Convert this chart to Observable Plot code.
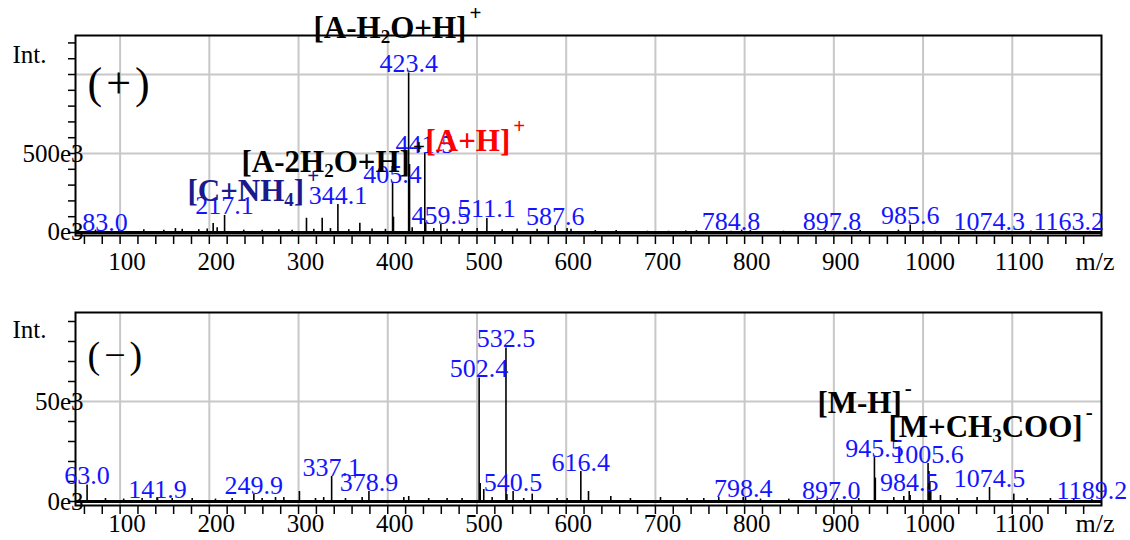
<!DOCTYPE html>
<html><head><meta charset="utf-8">
<script src="https://cdn.jsdelivr.net/npm/d3@7"></script>
<script src="https://cdn.jsdelivr.net/npm/@observablehq/plot@0.6"></script>
<style>
html,body{margin:0;padding:0;background:#fff;}
#chart{position:relative;width:1130px;height:540px;font-family:"Liberation Serif",serif;}
#chart svg{display:block;overflow:visible;}
</style></head><body><div id="chart"></div>
<script>
// ---------- Positive mode (+) ----------
const posLabelMz  = [83.0, 217.1, 344.1, 405.4, 423.4, 441.5, 459.5, 511.1, 587.6, 784.8, 897.8, 985.6, 1074.3, 1163.2];
const posLabelInt = [3e3, 108e3, 177e3, 310e3, 1010e3, 500e3, 50e3, 89e3, 44e3, 8e3, 8e3, 48e3, 8e3, 8e3];
const posMinorMz  = [72.4, 98.5, 126.6, 149, 162, 169.6, 188.2, 197.6, 204.3, 208.8, 238.6, 259.2, 277.9, 292.8, 308.9, 317.1, 326.5, 335.8, 356.3, 368.7, 382.4, 397.4, 406.4, 424.4, 427.4, 442.5, 451.6, 466.5, 483.4, 500.2, 528.2, 545, 567.4, 601, 605.4, 632.6, 656, 691, 714.7, 734, 746, 796.7, 806.4, 843.6, 890.4, 929.5, 972.4, 999.8, 1013.4, 1058.3, 1093.5, 1120.8, 1159.9, 1187.2];
const posMinorInt = [15e3, 12e3, 18e3, 15e3, 25e3, 20e3, 18e3, 22e3, 57e3, 30e3, 15e3, 15e3, 18e3, 15e3, 90e3, 20e3, 90e3, 25e3, 18e3, 59e3, 22e3, 20e3, 97e3, 430e3, 30e3, 60e3, 25e3, 20e3, 20e3, 25e3, 18e3, 22e3, 20e3, 25e3, 20e3, 12e3, 12e3, 8e3, 8e3, 10e3, 12e3, 15e3, 12e3, 8e3, 15e3, 12e3, 15e3, 10e3, 8e3, 10e3, 8e3, 10e3, 10e3, 8e3];
const posAnnText = ["[A-H_{2}O+H]^{+}", "[A-2H_{2}O+H]^{+}", "[A+H]^{+}", "[C+NH_{4}]^{+}"];
const posAnnKind = ["fragment", "fragment", "parent", "adduct"];
const posAnnMz   = [316.8, 236.1, 442.3, 175.5];
const posAnnInt  = [1234e3, 380e3, 519e3, 202e3];
const posYTicks  = [0, 100e3, 200e3, 300e3, 400e3, 500e3, 600e3, 700e3, 800e3, 900e3, 1000e3, 1100e3, 1200e3];
const posYLabels = [0, 500e3];
const posYGrid   = [500e3, 1000e3];

// ---------- Negative mode (-) ----------
const negLabelMz  = [63.0, 141.9, 249.9, 337.1, 378.9, 502.4, 532.5, 540.5, 616.4, 798.4, 897.0, 945.5, 984.5, 1005.6, 1074.5, 1189.2];
const negLabelInt = [8.3e3, 1.5e3, 3.5e3, 12.5e3, 5e3, 61.7e3, 76.7e3, 5e3, 15e3, 2e3, 1e3, 22e3, 5e3, 19e3, 7e3, 1e3];
const negMinorMz  = [83.6, 104, 124.7, 141.5, 158.4, 180.8, 206.9, 225.6, 259.2, 274.2, 283.5, 301, 319, 328.2, 352.6, 371.3, 418, 423.5, 445.9, 466.5, 483.3, 503.6, 507.6, 517, 533.5, 552.4, 561.9, 589.8, 601, 625, 650, 672, 705.7, 735.5, 754.2, 771, 801, 817.8, 849.5, 881.3, 903.7, 927.9, 946.5, 967.2, 978.4, 985.5, 1006.6, 1007.6, 1008.6, 1019.5, 1038.2, 1060.6, 1101.7, 1116.7, 1142.8, 1168.9];
const negMinorInt = [1.5e3, 1.2e3, 1.5e3, 2e3, 1.5e3, 1.5e3, 1.2e3, 1.5e3, 1.5e3, 2e3, 2e3, 5e3, 1.5e3, 2e3, 1.5e3, 2e3, 2e3, 2.5e3, 1.5e3, 1.5e3, 1.5e3, 9e3, 6e3, 2e3, 3.5e3, 1.5e3, 3.7e3, 1.5e3, 1.5e3, 5e3, 2.5e3, 1.5e3, 2e3, 1.5e3, 1.5e3, 2e3, 2e3, 1.2e3, 1.2e3, 1.2e3, 1.5e3, 1.5e3, 11.7e3, 2e3, 2.5e3, 3e3, 15e3, 10e3, 5e3, 3e3, 1.5e3, 2e3, 3.7e3, 1.5e3, 1.5e3, 1.5e3];
const negAnnText = ["[M-H]^{-}", "[M+CH_{3}COO]^{-}"];
const negAnnKind = ["fragment", "fragment"];
const negAnnMz   = [881.6, 961.2];
const negAnnInt  = [44.2e3, 32.5e3];
const negYTicks  = [0, 10e3, 20e3, 30e3, 40e3, 50e3, 60e3, 70e3, 80e3, 90e3];
const negYLabels = [0, 50e3];
const negYGrid   = [50e3];

// ---------- shared ----------
const xDomain    = [50, 1200];
const xTickLabels = [100, 200, 300, 400, 500, 600, 700, 800, 900, 1000, 1100];
const xMinorTicks = d3.range(60, 1200, 20);
const annKinds   = ["fragment", "parent", "adduct"];
const annColors  = ["#000000", "#ff0000", "#1a1a8c"];

function zip(mz, val) { return mz.map((m, i) => ({mz: m, int: val[i]})); }
function zipAnn(t, k, mz, val) { return t.map((s, i) => ({text: s, kind: k[i], mz: mz[i], int: val[i]})); }

function richify(svg) {
  d3.select(svg).selectAll("text").each(function () {
    const s = this.textContent;
    if (/^\(.\)$/.test(s)) { this.setAttribute("letter-spacing", "4"); return; }
    if (!/[_^]\{/.test(s)) return;
    while (this.firstChild) this.removeChild(this.firstChild);
    const t = d3.select(this);
    let shift = 0;
    for (const part of s.split(/(_\{[^}]*\}|\^\{[^}]*\})/)) {
      if (!part) continue;
      let kind = "n", txt = part;
      if (part.startsWith("_{")) { kind = "sub"; txt = part.slice(2, -1); }
      else if (part.startsWith("^{")) { kind = "sup"; txt = part.slice(2, -1); }
      const target = kind === "sub" ? 5 : kind === "sup" ? -18 : 0;
      const ts = t.append("tspan").text(txt);
      if (target - shift !== 0) ts.attr("dy", target - shift);
      if (kind === "sub") ts.attr("font-size", 19);
      if (kind === "sup") { ts.attr("font-size", 21); ts.attr("dx", 3); }
      shift = target;
    }
  });
}

function panel(cfg) {
  const peaks = zip(cfg.labelMz, cfg.labelInt).concat(zip(cfg.minorMz, cfg.minorInt));
  const labels = zip(cfg.labelMz, cfg.labelInt);
  const ann = zipAnn(cfg.annText, cfg.annKind, cfg.annMz, cfg.annInt);
  const svg = Plot.plot({
    width: 1130, height: cfg.height,
    marginLeft: 75, marginRight: 29, marginTop: cfg.mt, marginBottom: cfg.mb,
    style: {fontFamily: '"Liberation Serif", "Times New Roman", serif', fontSize: "24px", background: "transparent", color: "black", overflow: "visible"},
    x: {domain: xDomain, label: null},
    y: {domain: cfg.yDomain, label: null},
    color: {domain: annKinds, range: annColors},
    marks: [
      Plot.gridX({ticks: xTickLabels, stroke: "#c8c8c8", strokeOpacity: 1, strokeWidth: 2}),
      Plot.gridY({ticks: cfg.yGrid, stroke: "#c8c8c8", strokeOpacity: 1, strokeWidth: 2}),
      Plot.ruleX(peaks, {x: "mz", y1: 0, y2: "int", stroke: "black", strokeWidth: 1.6}),
      Plot.ruleY([0], {stroke: "black", strokeWidth: 3}),
      Plot.frame({stroke: "black", strokeWidth: 2}),
      Plot.axisX({ticks: xMinorTicks, tickSize: 9, tickFormat: () => "", label: null, strokeWidth: 1.5}),
      Plot.text(xTickLabels, {x: d => d, text: d => String(d), frameAnchor: "bottom", dx: 7, dy: cfg.xLabDy, lineAnchor: "bottom", fontSize: 25}),
      Plot.axisY({ticks: cfg.yTicks, tickSize: 7, tickFormat: () => "", label: null, strokeWidth: 1.5}),
      Plot.axisY({ticks: cfg.yLabels, tickSize: 0, tickPadding: -8, tickFormat: d => (d / 1000) + "e3", label: null, fontSize: 25}),
      Plot.text(["Int."], {text: d => d, frameAnchor: "top-left", dx: -63, dy: cfg.intDy, lineAnchor: "bottom", textAnchor: "start", fontSize: 25}),
      Plot.text(["m/z"], {text: d => d, frameAnchor: "bottom-right", dx: -26, dy: cfg.xLabDy, lineAnchor: "bottom", textAnchor: "start", fontSize: 26}),
      Plot.text([cfg.panelLabel], {text: d => d, frameAnchor: "top-left", dx: 12, dy: cfg.panelDy, lineAnchor: "bottom", textAnchor: "start", fontSize: cfg.panelSize}),
      Plot.text(labels, {x: "mz", y: "int", text: d => d.mz.toFixed(1), fill: "#1414ff", fontSize: 26, lineAnchor: "bottom", dy: -1}),
      Plot.text(ann, {x: "mz", y: "int", text: "text", fill: "kind", fontSize: 31, fontWeight: "bold", textAnchor: "start", lineAnchor: "bottom"})
    ]
  });
  richify(svg);
  return svg;
}

const chart = document.getElementById("chart");
chart.append(panel({
  height: 275, mt: 35, mb: 40, yDomain: [-19e3, 1247e3],
  labelMz: posLabelMz, labelInt: posLabelInt, minorMz: posMinorMz, minorInt: posMinorInt,
  annText: posAnnText, annKind: posAnnKind, annMz: posAnnMz, annInt: posAnnInt,
  yTicks: posYTicks, yLabels: posYLabels, yGrid: posYGrid,
  xLabDy: 34, intDy: 27, panelLabel: "(+)", panelDy: 62, panelSize: 44
}));
chart.append(panel({
  height: 265, mt: 37, mb: 35, yDomain: [-2e3, 94.5e3],
  labelMz: negLabelMz, labelInt: negLabelInt, minorMz: negMinorMz, minorInt: negMinorInt,
  annText: negAnnText, annKind: negAnnKind, annMz: negAnnMz, annInt: negAnnInt,
  yTicks: negYTicks, yLabels: negYLabels, yGrid: negYGrid,
  xLabDy: 26, intDy: 25, panelLabel: "(\u2212)", panelDy: 55, panelSize: 38
}));
</script></body></html>
